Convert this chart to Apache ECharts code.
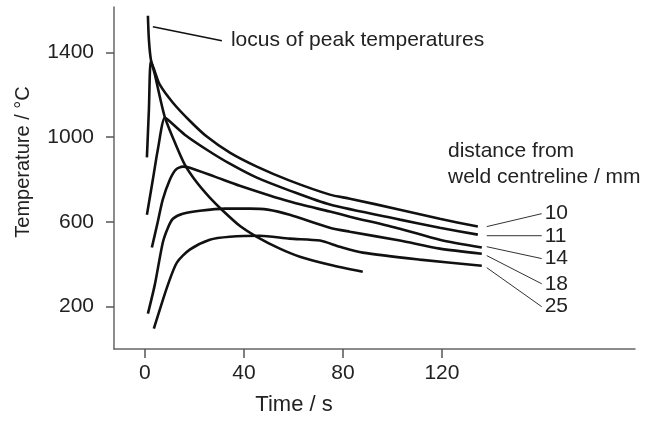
<!DOCTYPE html>
<html>
<head>
<meta charset="utf-8">
<script src="https://cdn.jsdelivr.net/npm/echarts@6/dist/echarts.min.js"></script>
<style>
  html, body { margin: 0; padding: 0; background: #fff; }
  #main { width: 647px; height: 423px; }
</style>
</head>
<body>
<div id="main"></div>
<script>
// thermal cycles, [time s, temperature C]
var c10 = [[0.8, 905], [1.6, 1130], [2.4, 1360], [4.0, 1310], [6.0, 1248], [11.3, 1163], [18.1, 1078],
    [25.0, 1003], [34.3, 927], [45.2, 861], [58.5, 795], [74.7, 729], [82.8, 710], [103.0, 658],
    [119.1, 615], [134.5, 578]];
var c11 = [[0.8, 634], [3.2, 800], [5.2, 941], [8.1, 1093], [10.1, 1074], [16.1, 1012], [25.0, 941],
    [34.3, 875], [45.2, 809], [58.5, 748], [74.7, 682], [103.0, 611], [119.1, 573], [134.5, 540]];
var c14 = [[2.8, 479], [5.2, 601], [7.2, 705], [10.1, 800], [12.5, 847], [15.3, 861], [18.1, 856],
    [28.2, 814], [38.3, 771], [58.5, 696], [74.7, 649], [82.8, 625], [103.0, 568], [119.1, 516],
    [136.1, 479]];
var c18 = [[1.2, 167], [4.0, 304], [7.2, 502], [9.3, 573], [11.3, 615], [15.3, 639], [22.2, 653],
    [32.3, 663], [42.4, 663], [49.6, 658], [58.5, 634], [74.7, 573], [82.8, 554], [103.0, 512],
    [119.1, 474], [136.1, 450]];
var c25 = [[3.6, 96], [6.0, 186], [9.3, 304], [12.9, 408], [18.1, 469], [26.2, 516], [34.3, 530],
    [46.4, 535], [58.5, 521], [70.7, 512], [78.7, 483], [88.0, 455], [111.0, 422], [136.1, 393]];
var locus = [[1.2, 1574], [1.6, 1461], [2.4, 1367], [4.0, 1296], [6.0, 1192], [8.1, 1093], [12.1, 975],
    [16.1, 871], [21.0, 786], [26.2, 715], [31.5, 653], [38.3, 582], [45.2, 530], [54.5, 474],
    [62.6, 436], [74.7, 398], [88.0, 365]];

var distNames = ['10', '11', '14', '18', '25'];
// leader lines from curve ends to the distance labels
var leaders = [
    [[138.1, 578], [160.3, 639]],
    [[138.1, 535], [160.3, 535]],
    [[138.1, 483], [160.3, 427]],
    [[138.1, 441], [160.3, 308]],
    [[138.1, 384], [160.3, 200]]
];
var locusPointer = [[3.2, 1522], [31.1, 1456]];

var xTicks = [0, 40, 80, 120];
var yTicks = [200, 600, 1000, 1400];

var font = 'Liberation Sans, Arial, sans-serif';
var ink = '#111';

var curveStyle = { color: ink, width: 2.6 };
var curves = [c10, c11, c14, c18, c25, locus];

var series = [];
for (var i in curves) {
    series.push({
        type: 'line',
        data: curves[i],
        showSymbol: false,
        smooth: 0.25,
        lineStyle: curveStyle,
        silent: true
    });
}

for (var j in leaders) {
    series.push({
        type: 'line',
        data: leaders[j],
        showSymbol: false,
        lineStyle: { color: '#333', width: 1 },
        endLabel: {
            show: true,
            formatter: distNames[j],
            distance: 3,
            fontFamily: font,
            fontSize: 21,
            color: '#222'
        },
        silent: true
    });
}

series.push({
    type: 'line',
    data: locusPointer,
    showSymbol: false,
    lineStyle: { color: ink, width: 1.6 },
    endLabel: {
        show: true,
        formatter: 'locus of peak temperatures',
        distance: 9,
        fontFamily: font,
        fontSize: 21,
        color: '#222'
    },
    silent: true
});

var chartDom = document.getElementById('main');
var myChart = echarts.init(chartDom);

var option = {
    animation: false,
    backgroundColor: '#fff',
    grid: {
        left: 114,
        right: 12,
        top: 7,
        bottom: 74,
        containLabel: false,
        outerBoundsMode: 'none'
    },
    xAxis: {
        type: 'value',
        min: -12.5,
        max: 198,
        name: 'Time / s',
        nameLocation: 'middle',
        nameGap: 45,
        nameTextStyle: { fontFamily: font, fontSize: 22, color: '#222', padding: [0, 161, 0, 0] },
        axisLine: { onZero: false, lineStyle: { color: '#666', width: 1.5 } },
        axisTick: { show: true, customValues: xTicks, length: 9, lineStyle: { color: '#555', width: 1.5 } },
        axisLabel: {
            customValues: xTicks, margin: 14, fontFamily: font, fontSize: 21, color: '#222',
            formatter: function (v) { return String(v); }
        },
        splitLine: { show: false }
    },
    yAxis: {
        type: 'value',
        min: 0,
        max: 1615,
        name: 'Temperature / °C',
        nameLocation: 'middle',
        nameGap: 81,
        nameTextStyle: { fontFamily: font, fontSize: 20, color: '#222', padding: [0, 0, 0, 32] },
        axisLine: { show: true, onZero: false, lineStyle: { color: '#666', width: 1.5 } },
        axisTick: { show: true, customValues: yTicks, length: 8, lineStyle: { color: '#555', width: 1.5 } },
        axisLabel: {
            customValues: yTicks, margin: 20, fontFamily: font, fontSize: 21, color: '#222',
            formatter: function (v) { return String(v); }
        },
        splitLine: { show: false }
    },
    graphic: [
        {
            type: 'text',
            left: 448,
            top: 141,
            style: { text: 'distance from', font: '21px ' + font, fill: '#222' }
        },
        {
            type: 'text',
            left: 448,
            top: 167,
            style: { text: 'weld centreline / mm', font: '21px ' + font, fill: '#222' }
        }
    ],
    series: series
};

myChart.setOption(option);
</script>
</body>
</html>
